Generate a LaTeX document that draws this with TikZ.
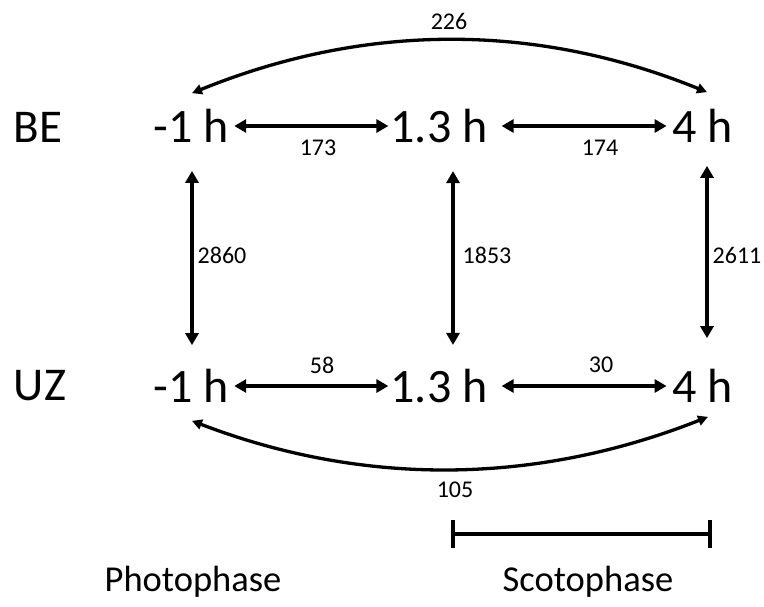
\documentclass[tikz,border=0pt]{standalone}
\usepackage{fontspec}
\setmainfont{Carlito}
\usetikzlibrary{arrows.meta}
\begin{document}
\begin{tikzpicture}[x=1pt,y=-1pt,
  timept/.style={font=\fontsize{48}{50}\selectfont, inner sep=0pt},
  rowlabel/.style={font=\fontsize{47}{50}\selectfont, inner sep=0pt},
  count/.style={font=\fontsize{24}{26}\selectfont, inner sep=0pt},
  phaselabel/.style={font=\fontsize{36.5}{40}\selectfont, inner sep=0pt},
  link/.style={line width=4pt, {Triangle[length=12pt,width=13pt]}-{Triangle[length=12pt,width=13pt]}},
  bow/.style={line width=3.3pt, {Triangle[length=10pt,width=10pt]}-{Triangle[length=10pt,width=10pt]}},
  bar/.style={line width=4pt}]
\useasboundingbox (0,0) rectangle (764,606);

% row labels
\node[rowlabel] (be) at (38,127) {BE};
\node[rowlabel] (uz) at (40,386) {UZ};

% sampling times, BE row
\node[timept] (be1) at (191.5,126) {-1 h};
\node[timept] (be2) at (439,126) {1.3 h};
\node[timept] (be3) at (703,126) {4 h};

% sampling times, UZ row
\node[timept] (uz1) at (191.5,386) {-1 h};
\node[timept] (uz2) at (439,386) {1.3 h};
\node[timept] (uz3) at (703,386) {4 h};

% comparisons within each row
\draw[link, shorten <=5pt, shorten >=2pt] (be1.east) -- (be2.west);
\draw[link, shorten <=14pt, shorten >=6pt] (be2.east) -- (be3.west);
\draw[link, shorten <=5pt, shorten >=2pt] (uz1.east) -- (uz2.west);
\draw[link, shorten <=14pt, shorten >=6pt] (uz2.east) -- (uz3.west);

% comparisons between rows
\draw[link, shorten <=28pt, shorten >=24pt] ([xshift=0.5pt]be1.south) -- ([xshift=0.5pt]uz1.north);
\draw[link, shorten <=28pt, shorten >=24pt] ([xshift=14pt]be2.south) -- ([xshift=14pt]uz2.north);
\draw[link, shorten <=23pt, shorten >=31pt] ([xshift=4pt]be3.south) -- ([xshift=4pt]uz3.north);

% long-range comparisons
\draw[bow] ([xshift=0.5pt,yshift=16pt]be1.north)
  .. controls +(172,-70) and +(-172,-70) .. ([xshift=4pt,yshift=17pt]be3.north);
\draw[bow] ([xshift=0.5pt,yshift=-18pt]uz1.south)
  .. controls +(172,66) and +(-172,68) .. ([xshift=5pt,yshift=-14pt]uz3.south);

% counts
\node[count] (n173) at (318,148) {173};
\node[count] (n174) at (600,148) {174};
\node[count] (n58) at (322,365) {58};
\node[count] (n30) at (601,365) {30};
\node[count] (n2860) at (222,255) {2860};
\node[count] (n1853) at (487,255) {1853};
\node[count] (n2611) at (737,255) {2611};
\node[count] (n226) at (449,21) {226};
\node[count] (n105) at (455,490) {105};

% scotophase bar
\coordinate (s0) at (453,534);
\coordinate (s1) at (710,534);
\draw[bar] (s0) -- (s1);
\draw[bar] ([yshift=14pt]s0) -- ([yshift=-14pt]s0);
\draw[bar] ([yshift=14pt]s1) -- ([yshift=-14pt]s1);

% phase names
\node[phaselabel] (photo) at (193,582) {Photophase};
\node[phaselabel] (scoto) at (588,582) {Scotophase};
\end{tikzpicture}
\end{document}
